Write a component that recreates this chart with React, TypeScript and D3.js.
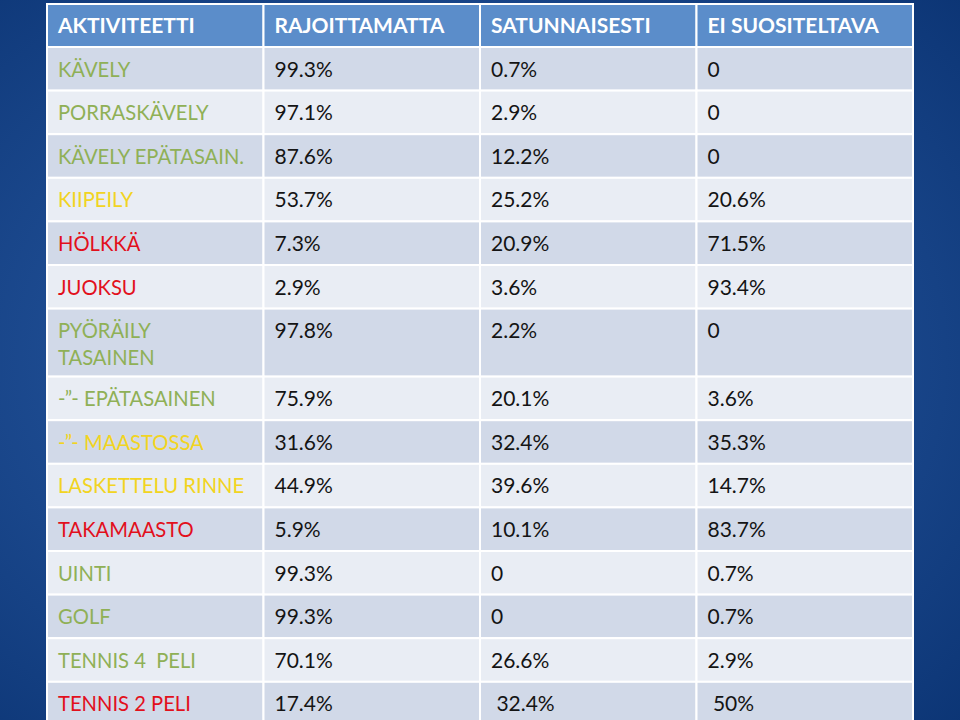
import React, { useEffect, useRef } from "react";
import * as d3 from "d3";

// table content
const headers = ["AKTIVITEETTI", "RAJOITTAMATTA", "SATUNNAISESTI", "EI SUOSITELTAVA"];
const activities = [
  "KÄVELY", "PORRASKÄVELY", "KÄVELY EPÄTASAIN.", "KIIPEILY", "HÖLKKÄ", "JUOKSU",
  "PYÖRÄILY\nTASAINEN", "-”- EPÄTASAINEN", "-”- MAASTOSSA", "LASKETTELU RINNE",
  "TAKAMAASTO", "UINTI", "GOLF", "TENNIS 4  PELI", "TENNIS 2 PELI",
];
const activityLevel = [
  "ok", "ok", "ok", "warn", "bad", "bad", "ok", "ok", "warn", "warn",
  "bad", "ok", "ok", "ok", "bad",
];
const unrestricted = [
  "99.3%", "97.1%", "87.6%", "53.7%", "7.3%", "2.9%", "97.8%", "75.9%", "31.6%",
  "44.9%", "5.9%", "99.3%", "99.3%", "70.1%", "17.4%",
];
const occasional = [
  "0.7%", "2.9%", "12.2%", "25.2%", "20.9%", "3.6%", "2.2%", "20.1%", "32.4%",
  "39.6%", "10.1%", "0", "0", "26.6%", " 32.4%",
];
const notRecommended = [
  "0", "0", "0", "20.6%", "71.5%", "93.4%", "0", "3.6%", "35.3%",
  "14.7%", "83.7%", "0.7%", "0.7%", "2.9%", " 50%",
];

const levelColor = { ok: "#8fb056", warn: "#f2d421", bad: "#e2101c" };

export default function App() {
  const ref = useRef<SVGSVGElement>(null);

  useEffect(() => {
    const svg = d3.select(ref.current);
    svg.selectAll("*").remove();
    const W = 960, H = 720;
    const font = "Lato, 'Open Sans', sans-serif";

    const defs = svg.append("defs");
    const grad = defs.append("radialGradient").attr("id", "bg")
      .attr("cx", "45%").attr("cy", "50%").attr("r", "75%");
    grad.append("stop").attr("offset", "0%").attr("stop-color", "#2f62ad");
    grad.append("stop").attr("offset", "100%").attr("stop-color", "#0c3575");
    svg.append("rect").attr("width", W).attr("height", H).attr("fill", "url(#bg)");

    const left = 47, right = 913, top = 4;
    const headH = 43, rowH = 43.6, lineH = 27;

    const x = d3.scaleBand<number>().domain(d3.range(4)).range([left, right]);

    const rows = activities.map((a, i) => ({
      lines: a.split("\n"),
      color: levelColor[activityLevel[i] as keyof typeof levelColor],
      vals: [unrestricted[i], occasional[i], notRecommended[i]],
    }));
    const heights = rows.map((r) => rowH + (r.lines.length - 1) * (lineH - 2.6));
    const ends = Array.from(d3.cumsum(heights));
    const y0 = (i: number) => top + headH + (i === 0 ? 0 : ends[i - 1]);

    const g = svg.append("g");

    // header
    g.selectAll(".hcell").data(headers).join("rect")
      .attr("x", (_, i) => x(i)!).attr("y", top)
      .attr("width", x.bandwidth()).attr("height", headH)
      .attr("fill", "#5b8dca").attr("stroke", "#ffffff").attr("stroke-width", 2);
    g.selectAll(".htext").data(headers).join("text")
      .attr("x", (_, i) => x(i)! + 11).attr("y", top + headH / 2 + 7.5)
      .attr("fill", "#ffffff").attr("font-weight", 700)
      .attr("font-family", font).attr("font-size", 21)
      .text((d) => d);

    // body rows
    const rg = g.selectAll(".row").data(rows).join("g")
      .attr("transform", (_, i) => `translate(0,${y0(i)})`);

    rg.each(function (r, i) {
      const row = d3.select(this);
      const h = heights[i];
      row.selectAll("rect").data(d3.range(4)).join("rect")
        .attr("x", (c) => x(c)!).attr("y", 0)
        .attr("width", x.bandwidth()).attr("height", h)
        .attr("fill", i % 2 === 0 ? "#d1d9e8" : "#e9edf4")
        .attr("stroke", "#ffffff").attr("stroke-width", 2);

      row.selectAll(".lab").data(r.lines).join("text")
        .attr("class", "lab")
        .attr("x", x(0)! + 11).attr("y", (_, k) => 29.5 + k * lineH)
        .attr("fill", r.color)
        .attr("font-family", font).attr("font-size", 20.2)
        .style("white-space", "pre")
        .text((d) => d);

      row.selectAll(".val").data(r.vals).join("text")
        .attr("class", "val")
        .attr("x", (_, k) => x(k + 1)! + 11).attr("y", 29.5)
        .attr("fill", "#141414")
        .attr("font-family", font).attr("font-size", 21)
        .style("white-space", "pre")
        .text((d) => d);
    });
  }, []);

  return (
    <svg ref={ref} width={960} height={720}
      style={{ position: "absolute", left: 0, top: 0, display: "block" }} />
  );
}
